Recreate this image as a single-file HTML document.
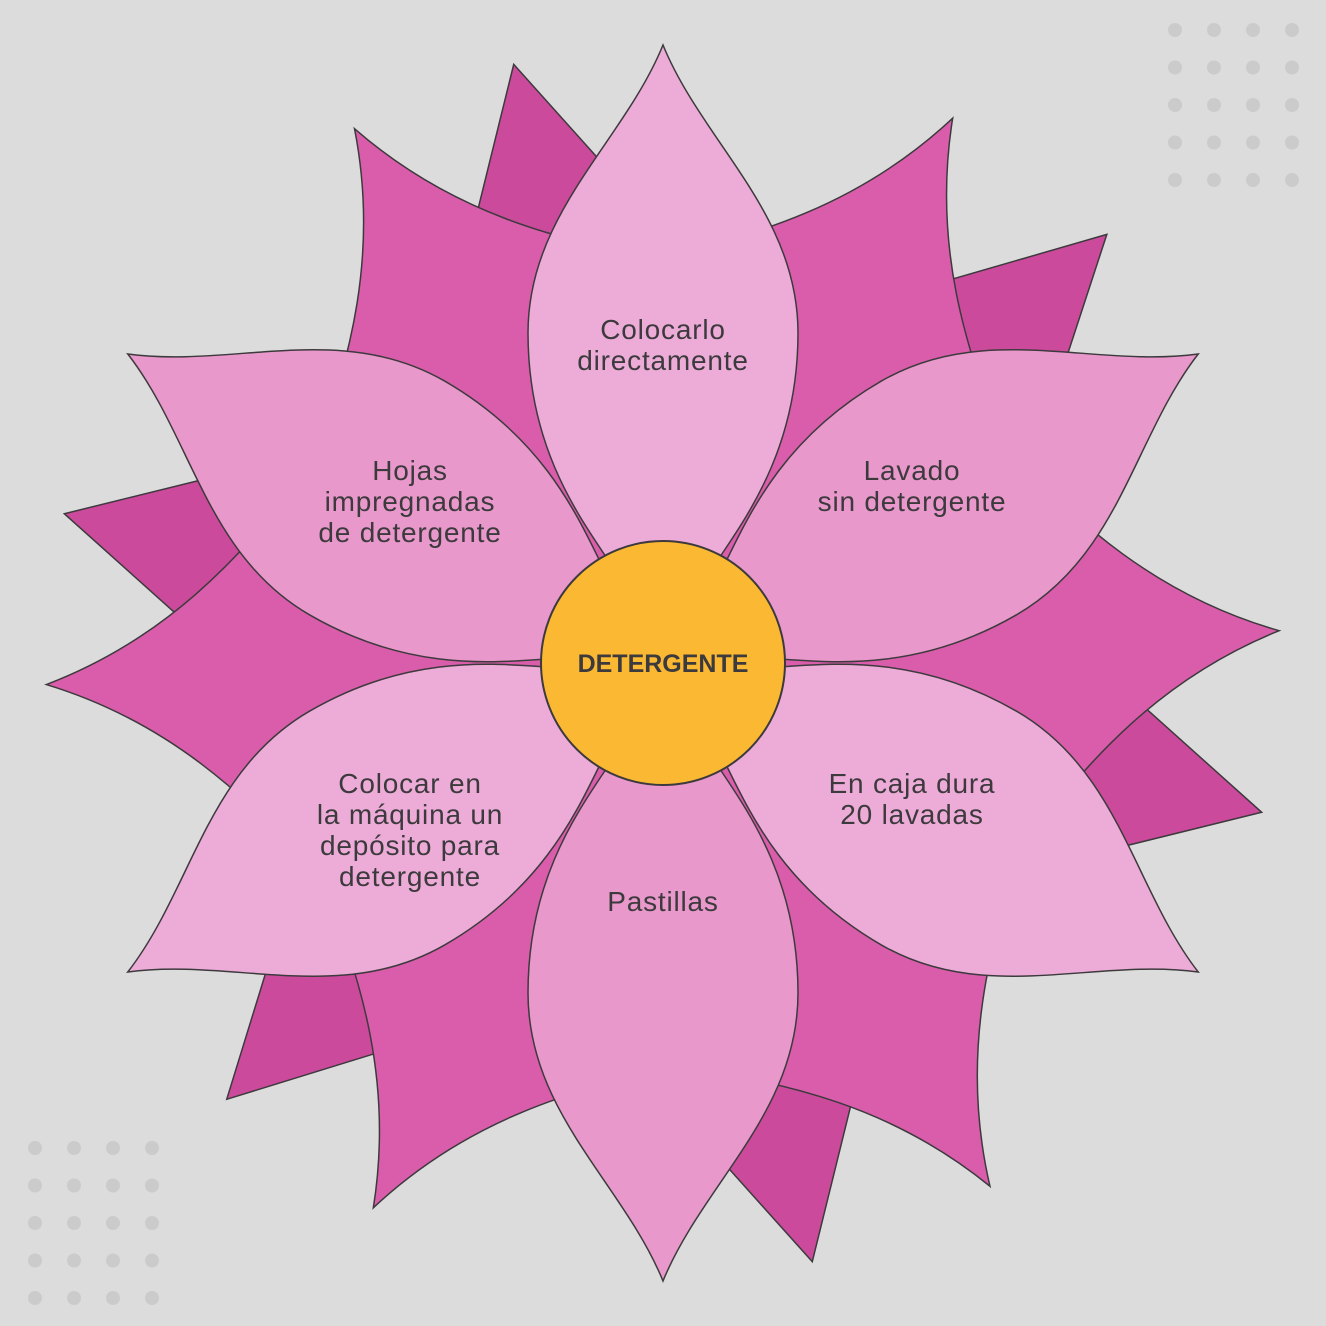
<!DOCTYPE html>
<html><head><meta charset="utf-8"><style>
html,body{margin:0;padding:0;background:#dcdcdc;}
svg{display:block}
text{font-family:"Liberation Sans",sans-serif;fill:#3d3a3d;}
</style></head><body>
<svg width="1326" height="1326" viewBox="0 0 1326 1326" xmlns="http://www.w3.org/2000/svg">
<rect width="1326" height="1326" fill="#dcdcdc"/>
<defs>
<path id="back" d="M0,-617 L120,-390 L0,-100 L-120,-390 Z"/>
<path id="mid" d="M0,-617 C40,-500 115,-420 215,-340 L0,-60 L-215,-340 C-115,-420 -40,-500 0,-617 Z"/>
<path id="inner" d="M0,-618 C40,-520 135,-450 135,-330 C135,-200 70,-130 40,-80 L-40,-80 C-70,-130 -135,-200 -135,-330 C-135,-450 -40,-520 0,-618 Z"/>
<g id="dots" fill="#cbcbcb">
<circle cx="0" cy="0" r="7"/><circle cx="39" cy="0" r="7"/><circle cx="78" cy="0" r="7"/><circle cx="117" cy="0" r="7"/>
<circle cx="0" cy="37.5" r="7"/><circle cx="39" cy="37.5" r="7"/><circle cx="78" cy="37.5" r="7"/><circle cx="117" cy="37.5" r="7"/>
<circle cx="0" cy="75" r="7"/><circle cx="39" cy="75" r="7"/><circle cx="78" cy="75" r="7"/><circle cx="117" cy="75" r="7"/>
<circle cx="0" cy="112.5" r="7"/><circle cx="39" cy="112.5" r="7"/><circle cx="78" cy="112.5" r="7"/><circle cx="117" cy="112.5" r="7"/>
<circle cx="0" cy="150" r="7"/><circle cx="39" cy="150" r="7"/><circle cx="78" cy="150" r="7"/><circle cx="117" cy="150" r="7"/>
</g>
</defs>
<use href="#dots" x="1175" y="30"/>
<use href="#dots" x="35" y="1148"/>
<g transform="translate(663,663)" stroke="#3d3a3d" stroke-width="1.5">
<g fill="#cc4a9c">
<use href="#back" transform="rotate(-14)"/>
<use href="#back" transform="rotate(46)"/>
<use href="#back" transform="rotate(104)"/>
<use href="#back" transform="rotate(166)"/>
<use href="#back" transform="rotate(225)"/>
<use href="#back" transform="rotate(284)"/>
</g>
<g fill="#d95dab">
<use href="#mid" transform="rotate(28)"/>
<use href="#mid" transform="rotate(87)"/>
<use href="#mid" transform="rotate(148)"/>
<use href="#mid" transform="rotate(208)"/>
<use href="#mid" transform="rotate(268)"/>
<use href="#mid" transform="rotate(330)"/>
</g>
<use href="#inner" transform="rotate(-60)" fill="#e898cb"/>
<use href="#inner" transform="rotate(240)" fill="#edacd8"/>
<use href="#inner" transform="rotate(180)" fill="#e898cb"/>
<use href="#inner" transform="rotate(120)" fill="#edacd8"/>
<use href="#inner" transform="rotate(60)" fill="#e898cb"/>
<use href="#inner" transform="rotate(0)" fill="#edacd8"/>
<circle r="122" fill="#fbb933" stroke-width="2"/>
</g>
<text x="663" y="672" text-anchor="middle" font-size="25" font-weight="bold">DETERGENTE</text>
<g font-size="28" text-anchor="middle" letter-spacing="0.8">
<text x="663" y="339">Colocarlo</text>
<text x="663" y="370">directamente</text>
<text x="912" y="480">Lavado</text>
<text x="912" y="511">sin detergente</text>
<text x="410" y="480">Hojas</text>
<text x="410" y="511">impregnadas</text>
<text x="410" y="542">de detergente</text>
<text x="912" y="793">En caja dura</text>
<text x="912" y="824">20 lavadas</text>
<text x="410" y="793">Colocar en</text>
<text x="410" y="824">la máquina un</text>
<text x="410" y="855">depósito para</text>
<text x="410" y="886">detergente</text>
<text x="663" y="911">Pastillas</text>
</g>
</svg>
</body></html>
